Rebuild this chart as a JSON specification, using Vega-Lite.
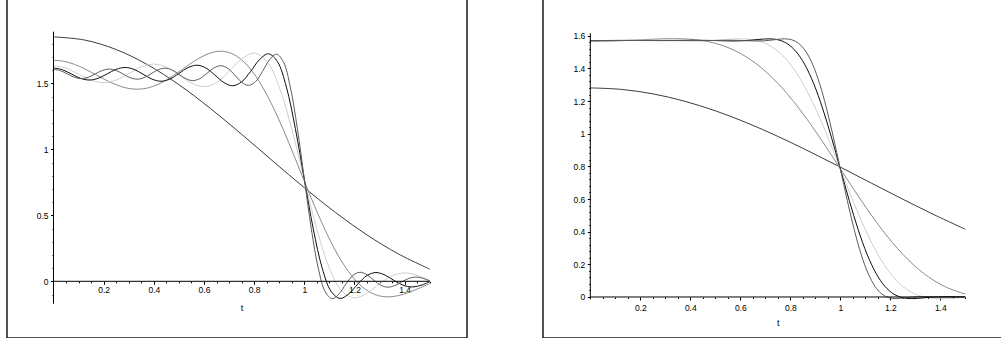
{
  "$schema": "https://vega.github.io/schema/vega-lite/v6.json",
  "padding": {"left": 6, "top": -3, "right": 0, "bottom": 0},
  "spacing": 74,
  "config": {
    "view": {"stroke": "#1a1a1a", "strokeWidth": 1.5},
    "font": "Liberation Sans",
    "axis": {
      "labelFlush": false, "domain": false, "grid": false,
      "tickColor": "#000000", "tickWidth": 1,
      "labelFont": "Liberation Sans", "labelFontSize": 8.5, "labelColor": "#000000",
      "titleFont": "Liberation Sans", "titleFontSize": 9, "titleFontWeight": "normal", "titleColor": "#000000"
    }
  },
  "datasets": {
    "left": [
      {"n":"1","t":0,"y":1.8519},{"n":"1","t":0.125,"y":1.8275},{"n":"1","t":0.25,"y":1.7557},{"n":"1","t":0.375,"y":1.6408},{"n":"1","t":0.5,"y":1.4896},{"n":"1","t":0.625,"y":1.3106},{"n":"1","t":0.75,"y":1.114},{"n":"1","t":0.875,"y":0.9101},{"n":"1","t":1,"y":0.7091},{"n":"1","t":1.125,"y":0.5202},{"n":"1","t":1.25,"y":0.3511},{"n":"1","t":1.375,"y":0.2075},{"n":"1","t":1.5,"y":0.0925},
      {"n":"3","t":0,"y":1.6748},{"n":"3","t":0.0417,"y":1.6667},{"n":"3","t":0.0833,"y":1.6436},{"n":"3","t":0.125,"y":1.6088},{"n":"3","t":0.1667,"y":1.5673},{"n":"3","t":0.2083,"y":1.5252},{"n":"3","t":0.25,"y":1.4889},{"n":"3","t":0.2917,"y":1.4641},{"n":"3","t":0.3333,"y":1.4552},{"n":"3","t":0.375,"y":1.4644},{"n":"3","t":0.4167,"y":1.4918},{"n":"3","t":0.4583,"y":1.5344},{"n":"3","t":0.5,"y":1.5871},{"n":"3","t":0.5417,"y":1.6429},{"n":"3","t":0.5833,"y":1.6932},{"n":"3","t":0.625,"y":1.7293},{"n":"3","t":0.6667,"y":1.743},{"n":"3","t":0.7083,"y":1.7273},{"n":"3","t":0.75,"y":1.6778},{"n":"3","t":0.7917,"y":1.5925},{"n":"3","t":0.8333,"y":1.4724},{"n":"3","t":0.875,"y":1.3216},{"n":"3","t":0.9167,"y":1.1465},{"n":"3","t":0.9583,"y":0.9557},{"n":"3","t":1,"y":0.759},{"n":"3","t":1.0417,"y":0.5663},{"n":"3","t":1.0833,"y":0.3871},{"n":"3","t":1.125,"y":0.2293},{"n":"3","t":1.1667,"y":0.0988},{"n":"3","t":1.2083,"y":-0.0008},{"n":"3","t":1.25,"y":-0.0687},{"n":"3","t":1.2917,"y":-0.1065},{"n":"3","t":1.3333,"y":-0.1179},{"n":"3","t":1.375,"y":-0.1084},{"n":"3","t":1.4167,"y":-0.0843},{"n":"3","t":1.4583,"y":-0.0521},{"n":"3","t":1.5,"y":-0.0179},
      {"n":"5","t":0,"y":1.634},{"n":"5","t":0.05,"y":1.6153},{"n":"5","t":0.1,"y":1.57},{"n":"5","t":0.15,"y":1.5243},{"n":"5","t":0.2,"y":1.5051},{"n":"5","t":0.25,"y":1.5248},{"n":"5","t":0.3,"y":1.5736},{"n":"5","t":0.35,"y":1.6239},{"n":"5","t":0.4,"y":1.6454},{"n":"5","t":0.45,"y":1.6225},{"n":"5","t":0.5,"y":1.5642},{"n":"5","t":0.55,"y":1.5021},{"n":"5","t":0.6,"y":1.4746},{"n":"5","t":0.65,"y":1.5058},{"n":"5","t":0.7,"y":1.5889},{"n":"5","t":0.75,"y":1.6836},{"n":"5","t":0.8,"y":1.729},{"n":"5","t":0.85,"y":1.6678},{"n":"5","t":0.9,"y":1.4713},{"n":"5","t":0.95,"y":1.1537},{"n":"5","t":1,"y":0.7695},{"n":"5","t":1.05,"y":0.3946},{"n":"5","t":1.1,"y":0.0996},{"n":"5","t":1.15,"y":-0.0743},{"n":"5","t":1.2,"y":-0.1261},{"n":"5","t":1.25,"y":-0.0902},{"n":"5","t":1.3,"y":-0.0184},{"n":"5","t":1.35,"y":0.0416},{"n":"5","t":1.4,"y":0.0631},{"n":"5","t":1.45,"y":0.0454},{"n":"5","t":1.5,"y":0.0072},
      {"n":"7","t":0,"y":1.6161},{"n":"7","t":0.0357,"y":1.6028},{"n":"7","t":0.0714,"y":1.5705},{"n":"7","t":0.1071,"y":1.5381},{"n":"7","t":0.1429,"y":1.5246},{"n":"7","t":0.1786,"y":1.5383},{"n":"7","t":0.2143,"y":1.5717},{"n":"7","t":0.25,"y":1.6057},{"n":"7","t":0.2857,"y":1.62},{"n":"7","t":0.3214,"y":1.6053},{"n":"7","t":0.3571,"y":1.5689},{"n":"7","t":0.3929,"y":1.5315},{"n":"7","t":0.4286,"y":1.5156},{"n":"7","t":0.4643,"y":1.5323},{"n":"7","t":0.5,"y":1.5743},{"n":"7","t":0.5357,"y":1.6182},{"n":"7","t":0.5714,"y":1.6372},{"n":"7","t":0.6071,"y":1.6166},{"n":"7","t":0.6429,"y":1.5637},{"n":"7","t":0.6786,"y":1.5067},{"n":"7","t":0.7143,"y":1.4812},{"n":"7","t":0.75,"y":1.5105},{"n":"7","t":0.7857,"y":1.5893},{"n":"7","t":0.8214,"y":1.6798},{"n":"7","t":0.8571,"y":1.7236},{"n":"7","t":0.8929,"y":1.664},{"n":"7","t":0.9286,"y":1.4711},{"n":"7","t":0.9643,"y":1.1569},{"n":"7","t":1,"y":0.774},{"n":"7","t":1.0357,"y":0.3978},{"n":"7","t":1.0714,"y":0.0998},{"n":"7","t":1.1071,"y":-0.077},{"n":"7","t":1.1429,"y":-0.13},{"n":"7","t":1.1786,"y":-0.0929},{"n":"7","t":1.2143,"y":-0.0186},{"n":"7","t":1.25,"y":0.0439},{"n":"7","t":1.2857,"y":0.0664},{"n":"7","t":1.3214,"y":0.0477},{"n":"7","t":1.3571,"y":0.0073},{"n":"7","t":1.3929,"y":-0.0289},{"n":"7","t":1.4286,"y":-0.0426},{"n":"7","t":1.4643,"y":-0.0306},{"n":"7","t":1.5,"y":-0.0038},
      {"n":"9","t":0,"y":1.6061},{"n":"9","t":0.0278,"y":1.5957},{"n":"9","t":0.0556,"y":1.5707},{"n":"9","t":0.0833,"y":1.5455},{"n":"9","t":0.1111,"y":1.5351},{"n":"9","t":0.1389,"y":1.5456},{"n":"9","t":0.1667,"y":1.5712},{"n":"9","t":0.1944,"y":1.5971},{"n":"9","t":0.2222,"y":1.6079},{"n":"9","t":0.25,"y":1.5969},{"n":"9","t":0.2778,"y":1.57},{"n":"9","t":0.3056,"y":1.5427},{"n":"9","t":0.3333,"y":1.5312},{"n":"9","t":0.3611,"y":1.543},{"n":"9","t":0.3889,"y":1.5721},{"n":"9","t":0.4167,"y":1.602},{"n":"9","t":0.4444,"y":1.6146},{"n":"9","t":0.4722,"y":1.6014},{"n":"9","t":0.5,"y":1.5686},{"n":"9","t":0.5278,"y":1.5347},{"n":"9","t":0.5556,"y":1.5201},{"n":"9","t":0.5833,"y":1.5356},{"n":"9","t":0.6111,"y":1.5745},{"n":"9","t":0.6389,"y":1.6155},{"n":"9","t":0.6667,"y":1.6334},{"n":"9","t":0.6944,"y":1.6139},{"n":"9","t":0.7222,"y":1.5635},{"n":"9","t":0.75,"y":1.509},{"n":"9","t":0.7778,"y":1.4845},{"n":"9","t":0.8056,"y":1.5128},{"n":"9","t":0.8333,"y":1.5894},{"n":"9","t":0.8611,"y":1.6778},{"n":"9","t":0.8889,"y":1.7207},{"n":"9","t":0.9167,"y":1.6619},{"n":"9","t":0.9444,"y":1.4709},{"n":"9","t":0.9722,"y":1.1587},{"n":"9","t":1,"y":0.7766},{"n":"9","t":1.0278,"y":0.3996},{"n":"9","t":1.0556,"y":0.0999},{"n":"9","t":1.0833,"y":-0.0786},{"n":"9","t":1.1111,"y":-0.1322},{"n":"9","t":1.1389,"y":-0.0945},{"n":"9","t":1.1667,"y":-0.0187},{"n":"9","t":1.1944,"y":0.0453},{"n":"9","t":1.2222,"y":0.0684},{"n":"9","t":1.25,"y":0.0491},{"n":"9","t":1.2778,"y":0.0074},{"n":"9","t":1.3056,"y":-0.0302},{"n":"9","t":1.3333,"y":-0.0444},{"n":"9","t":1.3611,"y":-0.0319},{"n":"9","t":1.3889,"y":-0.0039},{"n":"9","t":1.4167,"y":0.0221},{"n":"9","t":1.4444,"y":0.0321},{"n":"9","t":1.4722,"y":0.023},{"n":"9","t":1.5,"y":0.0023}
    ],
    "right": [
      {"n":"1","t":0,"y":1.2805},{"n":"1","t":0.125,"y":1.2713},{"n":"1","t":0.25,"y":1.2441},{"n":"1","t":0.375,"y":1.1999},{"n":"1","t":0.5,"y":1.1403},{"n":"1","t":0.625,"y":1.0674},{"n":"1","t":0.75,"y":0.9837},{"n":"1","t":0.875,"y":0.892},{"n":"1","t":1,"y":0.7954},{"n":"1","t":1.125,"y":0.6967},{"n":"1","t":1.25,"y":0.5987},{"n":"1","t":1.375,"y":0.5041},{"n":"1","t":1.5,"y":0.415},
      {"n":"3","t":0,"y":1.565},{"n":"3","t":0.0833,"y":1.567},{"n":"3","t":0.1667,"y":1.5722},{"n":"3","t":0.25,"y":1.5786},{"n":"3","t":0.3333,"y":1.582},{"n":"3","t":0.4167,"y":1.5762},{"n":"3","t":0.5,"y":1.5535},{"n":"3","t":0.5833,"y":1.5054},{"n":"3","t":0.6667,"y":1.425},{"n":"3","t":0.75,"y":1.3086},{"n":"3","t":0.8333,"y":1.1577},{"n":"3","t":0.9167,"y":0.9794},{"n":"3","t":1,"y":0.7858},{"n":"3","t":1.0833,"y":0.5919},{"n":"3","t":1.1667,"y":0.4131},{"n":"3","t":1.25,"y":0.2616},{"n":"3","t":1.3333,"y":0.1449},{"n":"3","t":1.4167,"y":0.0648},{"n":"3","t":1.5,"y":0.0175},
      {"n":"5","t":0,"y":1.5695},{"n":"5","t":0.05,"y":1.5699},{"n":"5","t":0.1,"y":1.5709},{"n":"5","t":0.15,"y":1.5719},{"n":"5","t":0.2,"y":1.5724},{"n":"5","t":0.25,"y":1.5718},{"n":"5","t":0.3,"y":1.5703},{"n":"5","t":0.35,"y":1.5686},{"n":"5","t":0.4,"y":1.5676},{"n":"5","t":0.45,"y":1.5689},{"n":"5","t":0.5,"y":1.5727},{"n":"5","t":0.55,"y":1.5779},{"n":"5","t":0.6,"y":1.5809},{"n":"5","t":0.65,"y":1.5755},{"n":"5","t":0.7,"y":1.5533},{"n":"5","t":0.75,"y":1.5058},{"n":"5","t":0.8,"y":1.4255},{"n":"5","t":0.85,"y":1.309},{"n":"5","t":0.9,"y":1.1578},{"n":"5","t":0.95,"y":0.9792},{"n":"5","t":1,"y":0.7855},{"n":"5","t":1.05,"y":0.5917},{"n":"5","t":1.1,"y":0.413},{"n":"5","t":1.15,"y":0.2617},{"n":"5","t":1.2,"y":0.1451},{"n":"5","t":1.25,"y":0.0649},{"n":"5","t":1.3,"y":0.0175},{"n":"5","t":1.35,"y":-0.0045},{"n":"5","t":1.4,"y":-0.0099},{"n":"5","t":1.45,"y":-0.007},{"n":"5","t":1.5,"y":-0.0019},
      {"n":"7","t":0,"y":1.5703},{"n":"7","t":0.0714,"y":1.5708},{"n":"7","t":0.1429,"y":1.5713},{"n":"7","t":0.2143,"y":1.5707},{"n":"7","t":0.2857,"y":1.5701},{"n":"7","t":0.3571,"y":1.571},{"n":"7","t":0.4286,"y":1.5721},{"n":"7","t":0.5,"y":1.5703},{"n":"7","t":0.5357,"y":1.5687},{"n":"7","t":0.5714,"y":1.5678},{"n":"7","t":0.6071,"y":1.569},{"n":"7","t":0.6429,"y":1.5727},{"n":"7","t":0.6786,"y":1.5779},{"n":"7","t":0.7143,"y":1.5808},{"n":"7","t":0.75,"y":1.5754},{"n":"7","t":0.7857,"y":1.5533},{"n":"7","t":0.8214,"y":1.5058},{"n":"7","t":0.8571,"y":1.4256},{"n":"7","t":0.8929,"y":1.3091},{"n":"7","t":0.9286,"y":1.1578},{"n":"7","t":0.9643,"y":0.9792},{"n":"7","t":1,"y":0.7854},{"n":"7","t":1.0357,"y":0.5917},{"n":"7","t":1.0714,"y":0.413},{"n":"7","t":1.1071,"y":0.2617},{"n":"7","t":1.1429,"y":0.1451},{"n":"7","t":1.1786,"y":0.0649},{"n":"7","t":1.2143,"y":0.0175},{"n":"7","t":1.25,"y":-0.0045},{"n":"7","t":1.2857,"y":-0.01},{"n":"7","t":1.3214,"y":-0.007},{"n":"7","t":1.3571,"y":-0.0019},{"n":"7","t":1.3929,"y":0.0017},{"n":"7","t":1.4286,"y":0.0029},{"n":"7","t":1.4643,"y":0.0021},{"n":"7","t":1.5,"y":0.0005},
      {"n":"9","t":0,"y":1.5706},{"n":"9","t":0.0556,"y":1.5708},{"n":"9","t":0.1111,"y":1.571},{"n":"9","t":0.1667,"y":1.5708},{"n":"9","t":0.2222,"y":1.5705},{"n":"9","t":0.2778,"y":1.5708},{"n":"9","t":0.3333,"y":1.5712},{"n":"9","t":0.3889,"y":1.5707},{"n":"9","t":0.4444,"y":1.5701},{"n":"9","t":0.5,"y":1.571},{"n":"9","t":0.5556,"y":1.5721},{"n":"9","t":0.6111,"y":1.5703},{"n":"9","t":0.6389,"y":1.5687},{"n":"9","t":0.6667,"y":1.5679},{"n":"9","t":0.6944,"y":1.569},{"n":"9","t":0.7222,"y":1.5727},{"n":"9","t":0.75,"y":1.5779},{"n":"9","t":0.7778,"y":1.5808},{"n":"9","t":0.8056,"y":1.5754},{"n":"9","t":0.8333,"y":1.5533},{"n":"9","t":0.8611,"y":1.5058},{"n":"9","t":0.8889,"y":1.4256},{"n":"9","t":0.9167,"y":1.3091},{"n":"9","t":0.9444,"y":1.1578},{"n":"9","t":0.9722,"y":0.9791},{"n":"9","t":1,"y":0.7854},{"n":"9","t":1.0278,"y":0.5917},{"n":"9","t":1.0556,"y":0.413},{"n":"9","t":1.0833,"y":0.2617},{"n":"9","t":1.1111,"y":0.1451},{"n":"9","t":1.1389,"y":0.0649},{"n":"9","t":1.1667,"y":0.0175},{"n":"9","t":1.1944,"y":-0.0045},{"n":"9","t":1.2222,"y":-0.01},{"n":"9","t":1.25,"y":-0.007},{"n":"9","t":1.2778,"y":-0.0019},{"n":"9","t":1.3056,"y":0.0017},{"n":"9","t":1.3333,"y":0.0029},{"n":"9","t":1.3611,"y":0.0021},{"n":"9","t":1.3889,"y":0.0005},{"n":"9","t":1.4167,"y":-0.0008},{"n":"9","t":1.4444,"y":-0.0012},{"n":"9","t":1.4722,"y":-0.0009},{"n":"9","t":1.5,"y":-0.0002}
    ]
  },
  "hconcat": [
    {
      "width": 460,
      "height": 340,
      "resolve": {"axis": {"x": "independent", "y": "independent"}},
      "layer": [
        {
          "data": {"name": "left"},
          "mark": {"type": "line", "interpolate": "catmull-rom", "strokeWidth": 1},
          "encoding": {
            "x": {
              "field": "t", "type": "quantitative",
              "scale": {"domain": [-0.1854, 1.6487], "nice": false, "zero": false},
              "axis": {
                "orient": "bottom", "offset": -56.7,
                "values": [0.2,0.4,0.6,0.8,1,1.2,1.4],
                "tickSize": 3, "labelPadding": 1, "labelOverlap": false,
                "labelExpr": "format(datum.value, '.1~f')",
                "title": "t", "titleX": 234.6, "titleY": 25.7, "titleBaseline": "middle"
              }
            },
            "y": {
              "field": "y", "type": "quantitative",
              "scale": {"domain": [-0.4295, 2.1462], "nice": false, "zero": false},
              "axis": {
                "orient": "left", "offset": -46.5,
                "values": [0,0.5,1,1.5],
                "tickSize": 3, "labelPadding": 2.5, "labelOverlap": false,
                "labelExpr": "format(datum.value, '.1~f')",
                "title": null
              }
            },
            "color": {
              "field": "n", "type": "nominal",
              "scale": {"domain": ["1","3","5","7","9"], "range": ["#3c3c3c","#8a8a8a","#cfcfcf","#0d0d0d","#5c5c5c"]},
              "legend": null
            }
          }
        },
        {
          "data": {"values": [{}]},
          "mark": {"type": "rule", "color": "#000000", "strokeWidth": 1},
          "encoding": {
            "x": {"datum": 0, "type": "quantitative",
              "axis": {
                "orient": "bottom", "offset": -56.7, "labels": false, "title": null, "tickSize": 1.5,
                "values": [0.05,0.1,0.15,0.25,0.3,0.35,0.45,0.5,0.55,0.65,0.7,0.75,0.85,0.9,0.95,1.05,1.1,1.15,1.25,1.3,1.35,1.45,1.5]
              }
            },
            "x2": {"datum": 1.5},
            "y": {"datum": 0, "type": "quantitative",
              "axis": {
                "orient": "left", "offset": -46.5, "labels": false, "title": null, "tickSize": 1.5,
                "values": [-0.1,0.1,0.2,0.3,0.4,0.6,0.7,0.8,0.9,1.1,1.2,1.3,1.4,1.6,1.7,1.8]
              }
            }
          }
        },
        {
          "data": {"values": [{}]},
          "mark": {"type": "rule", "color": "#000000", "strokeWidth": 1},
          "encoding": {
            "x": {"datum": 0, "type": "quantitative", "axis": null},
            "y": {"datum": -0.17, "type": "quantitative", "axis": null},
            "y2": {"datum": 1.891}
          }
        }
      ]
    },
    {
      "width": 460,
      "height": 340,
      "resolve": {"axis": {"x": "independent", "y": "independent"}},
      "layer": [
        {
          "data": {"name": "right"},
          "mark": {"type": "line", "interpolate": "catmull-rom", "strokeWidth": 1},
          "encoding": {
            "x": {
              "field": "t", "type": "quantitative",
              "scale": {"domain": [-0.1892, 1.6508], "nice": false, "zero": false},
              "axis": {
                "orient": "bottom", "offset": -41,
                "values": [0.2,0.4,0.6,0.8,1,1.2,1.4],
                "tickSize": 3, "labelPadding": 3, "labelOverlap": false,
                "labelExpr": "format(datum.value, '.1~f')",
                "title": "t", "titleX": 234.8, "titleY": 25.7, "titleBaseline": "middle"
              }
            },
            "y": {
              "field": "y", "type": "quantitative",
              "scale": {"domain": [-0.2511, 1.831], "nice": false, "zero": false},
              "axis": {
                "orient": "left", "offset": -47.3,
                "values": [0,0.2,0.4,0.6,0.8,1,1.2,1.4,1.6],
                "tickSize": 3, "labelPadding": 2.5, "labelOverlap": false,
                "labelExpr": "format(datum.value, '.1~f')",
                "title": null
              }
            },
            "color": {
              "field": "n", "type": "nominal",
              "scale": {"domain": ["1","3","5","7","9"], "range": ["#3c3c3c","#8a8a8a","#cfcfcf","#0d0d0d","#5c5c5c"]},
              "legend": null
            }
          }
        },
        {
          "data": {"values": [{}]},
          "mark": {"type": "rule", "color": "#000000", "strokeWidth": 1},
          "encoding": {
            "x": {"datum": 0, "type": "quantitative",
              "axis": {
                "orient": "bottom", "offset": -41, "labels": false, "title": null, "tickSize": 1.5,
                "values": [0.05,0.1,0.15,0.25,0.3,0.35,0.45,0.5,0.55,0.65,0.7,0.75,0.85,0.9,0.95,1.05,1.1,1.15,1.25,1.3,1.35,1.45,1.5]
              }
            },
            "x2": {"datum": 1.5},
            "y": {"datum": 0, "type": "quantitative",
              "axis": {
                "orient": "left", "offset": -47.3, "labels": false, "title": null, "tickSize": 1.5,
                "values": [0.04,0.08,0.12,0.16,0.24,0.28,0.32,0.36,0.44,0.48,0.52,0.56,0.64,0.68,0.72,0.76,0.84,0.88,0.92,0.96,1.04,1.08,1.12,1.16,1.24,1.28,1.32,1.36,1.44,1.48,1.52,1.56]
              }
            }
          }
        },
        {
          "data": {"values": [{}]},
          "mark": {"type": "rule", "color": "#000000", "strokeWidth": 1},
          "encoding": {
            "x": {"datum": 0, "type": "quantitative", "axis": null},
            "y": {"datum": -0.015, "type": "quantitative", "axis": null},
            "y2": {"datum": 1.615}
          }
        }
      ]
    }
  ]
}
